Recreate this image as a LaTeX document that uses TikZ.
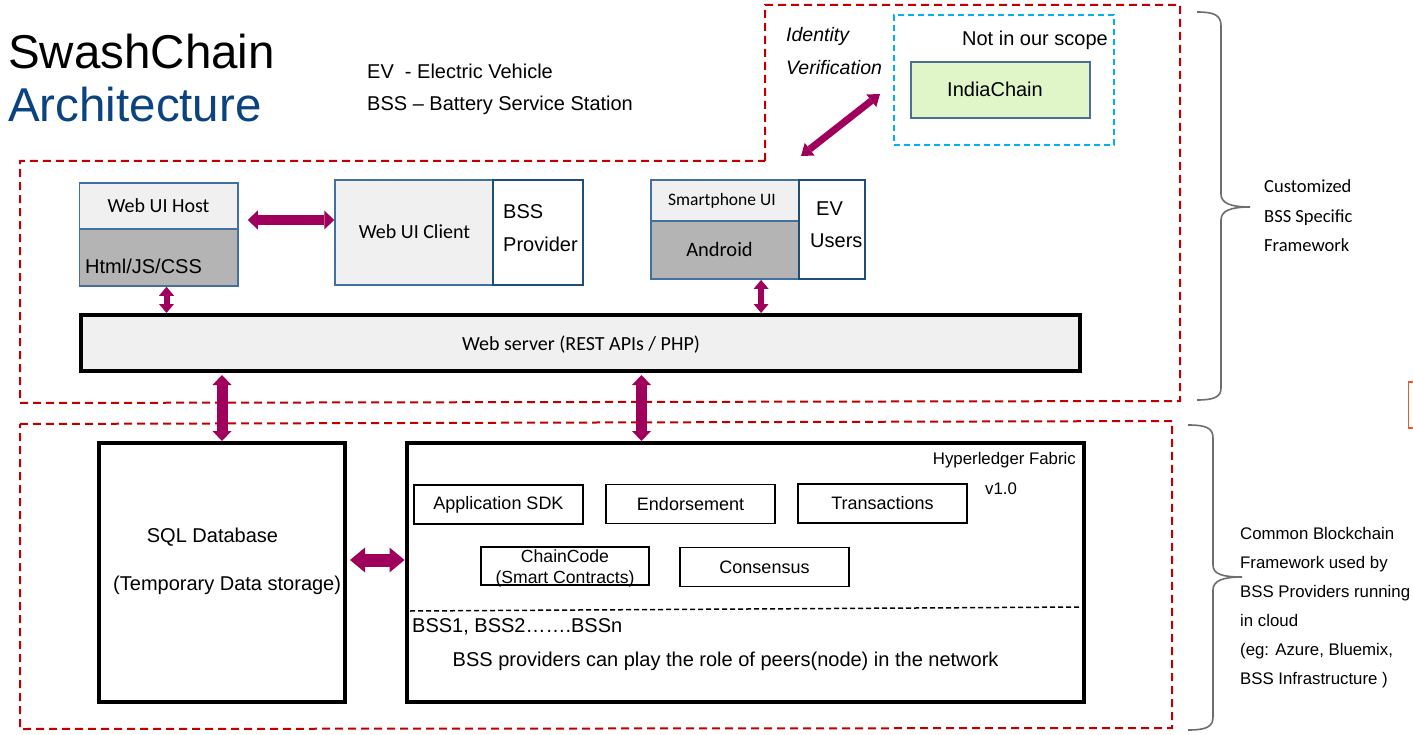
\documentclass[tikz,border=0pt]{standalone}
\usepackage{fontspec}
\setmainfont{Liberation Sans}
\newfontfamily\calfont{Carlito}
\usetikzlibrary{arrows.meta,calc}
\definecolor{reddash}{RGB}{192,0,0}
\definecolor{bluedash}{RGB}{0,176,240}
\definecolor{boxblue}{RGB}{65,113,156}
\definecolor{darkblue}{RGB}{31,78,121}
\definecolor{lightfill}{RGB}{240,240,240}
\definecolor{grayfill}{RGB}{180,180,180}
\definecolor{arrowmag}{RGB}{158,0,92}
\definecolor{titleblue}{RGB}{11,66,128}
\definecolor{greenfill}{RGB}{224,246,200}
\definecolor{indiaborder}{RGB}{74,110,150}
\definecolor{bracegray}{RGB}{110,110,110}
\definecolor{orangebox}{RGB}{230,90,50}
\newcommand\fsz[1]{\fontsize{#1}{#1}\selectfont}
\begin{document}
\begin{tikzpicture}[x=1pt,y=-1pt,
  every node/.style={inner sep=0pt},
  bluebox/.style={draw=boxblue, line width=1.5pt},
  darkbox/.style={draw=darkblue, line width=1.8pt, fill=white},
  heavybox/.style={draw=black, line width=4pt},
  plainbox/.style={draw=black, line width=1.8pt, minimum width=169pt, minimum height=39pt, font=\fsz{18}},
  reddashed/.style={draw=reddash, line width=2pt, dash pattern=on 8pt off 5pt},
  fatarrow/.style n args={3}{draw=arrowmag, line width=#1, arrows={Triangle[length=#3 0,width=#2 0,line width=0pt 0]-Triangle[length=#3 0,width=#2 0,line width=0pt 0]}},
  brace/.style={draw=bracegray, line width=1.6pt},
  txt/.style={font=\fsz{20}},
  caltxt/.style={font=\calfont\fsz{20}},
  smalltxt/.style={font=\calfont\fsz{18.5}},
  notetxt/.style={font=\fsz{16.8}, anchor=base west},
]
\useasboundingbox (0,0) rectangle (1413,735);
\fill[white] (0,0) rectangle (1413,735);

% title and legend
\node[anchor=base west, font=\fsz{47.5}] (t1) at (8,69) {SwashChain};
\node[anchor=base west, font=\fsz{47.5}, text=titleblue] (t2) at (8,122) {Architecture};
\node[txt, anchor=base west] (ev) at (367,79) {EV~ - Electric Vehicle};
\node[txt, anchor=base west] (bss) at (367,111) {BSS – Battery Service Station};

% red dashed regions
\draw[reddashed] (765,161) -- (765,5) -- (1180,5) -- (1180,401) -- (20,403) -- (20,161) -- cycle;
\draw[reddashed] (20,424) -- (1172,421) -- (1172,728) -- (20,729) -- cycle;

% identity verification
\node[draw=bluedash, line width=2pt, dash pattern=on 6pt off 4pt, minimum width=220pt, minimum height=130pt] (scope) at (1004,80) {};
\node[draw=indiaborder, line width=2pt, fill=greenfill, minimum width=179pt, minimum height=56pt] (india) at (1000.5,90) {};
\node[txt, anchor=base] (indiatxt) at (995,97) {IndiaChain};
\node[txt, anchor=base east] (scopetxt) at (1108,46) {Not in our scope};
\node[font=\fsz{19.5}\itshape, anchor=base west] (idtxt1) at (786,42) {Identity};
\node[font=\fsz{19.5}\itshape, anchor=base west] (idtxt2) at (786,75) {Verification};
\coordinate (idA) at (801,156);
\coordinate (idB) at (880,94);
\draw[fatarrow={7pt}{16pt}{11pt}] (idA) -- (idB);

% web UI host
\node[bluebox, fill=lightfill, minimum width=158.5pt, minimum height=46pt] (hosttop) at (158.75,206) {};
\node[bluebox, fill=grayfill, minimum width=158.5pt, minimum height=57pt] (hostbot) at (158.75,257.5) {};
\node[caltxt, anchor=base] (hosttxt) at (158.5,213) {Web UI Host};
\node[txt, anchor=base west] (htmltxt) at (85,273) {Html/JS/CSS};

% web UI client
\node[bluebox, fill=lightfill, minimum width=158pt, minimum height=105pt] (client) at (414,232.5) {};
\node[darkbox, minimum width=90pt, minimum height=105pt] (provider) at (538,232.5) {};
\node[caltxt, anchor=base] (clienttxt) at (414.5,239) {Web UI Client};
\node[txt, anchor=base west] (provtxt1) at (503,219) {BSS};
\node[txt, anchor=base west] (provtxt2) at (503,252) {Provider};

% smartphone
\node[bluebox, fill=lightfill, minimum width=148pt, minimum height=41pt] (phonetop) at (725,200.5) {};
\node[bluebox, fill=grayfill, minimum width=148pt, minimum height=58pt] (phonebot) at (725,250) {};
\node[darkbox, minimum width=66pt, minimum height=99pt] (evusers) at (832,229.5) {};
\node[font=\calfont\fsz{17.5}, anchor=base west] (phonetxt) at (668,205.5) {Smartphone UI};
\node[font=\calfont\fsz{20.5}, anchor=base] (androidtxt) at (719.5,257) {Android};
\node[txt, anchor=base west] (evtxt1) at (816,216) {EV};
\node[txt, anchor=base west] (evtxt2) at (810,248) {Users};

% web server
\node[heavybox, fill=lightfill, minimum width=999pt, minimum height=56pt] (web) at (580.5,343) {};
\node[caltxt, anchor=base] (webtxt) at (581,350) {Web server (REST APIs / PHP)};

% lower boxes
\node[heavybox, fill=white, minimum width=246pt, minimum height=259pt] (sql) at (222,572.5) {};
\node[txt, anchor=base] (sqltxt1) at (212.5,542) {SQL Database};
\node[txt, anchor=base west] (sqltxt2) at (113,590) {(Temporary Data storage)};

\node[heavybox, fill=white, minimum width=677.5pt, minimum height=259pt] (hl) at (745.25,572.5) {};
\node[font=\fsz{16.8}, anchor=base east] (hltxt) at (1076,464.5) {Hyperledger Fabric};
\node[font=\fsz{16.8}, anchor=base west] (vtxt) at (985,494) {v1.0};
\node[plainbox] (appsdk) at (498.5,504.5) {Application SDK};
\node[plainbox] (endorse) at (690.5,504) {Endorsement};
\node[plainbox] (trans) at (882.5,503.5) {Transactions};
\node[plainbox, minimum width=168.5pt, minimum height=38pt] (chaincode) at (565,566) {};
\node[font=\fsz{17.6}, anchor=base] (cctxt1) at (565,562) {ChainCode};
\node[font=\fsz{17.6}, anchor=base] (cctxt2) at (565,583) {(Smart Contracts)};
\node[plainbox] (consensus) at (764.5,567) {Consensus};
\coordinate (dashA) at (410,611);
\coordinate (dashB) at (1084,607);
\draw[black, line width=1.5pt, dash pattern=on 5pt off 3pt] (dashA) -- (dashB);
\node[txt, anchor=base west] (bsstxt) at (412,632) {BSS1, BSS2…….BSSn};
\node[txt, anchor=base west] (peertxt) at (452.5,666) {BSS providers can play the role of peers(node) in the network};

% connectors
\coordinate (hcA) at ($(hosttop.east)+(9,14)$);
\draw[fatarrow={10pt}{19pt}{10pt}] (hcA) -- (hcA -| client.west);
\coordinate (hw) at ($(hostbot.south)+(7.75,0)$);
\draw[fatarrow={6pt}{15pt}{9pt}] (hw) -- (hw |- web.north);
\coordinate (pw) at ($(evusers.south west)+(-37,0)$);
\draw[fatarrow={6pt}{15pt}{9pt}] (pw) -- (pw |- web.north);
\draw[fatarrow={11pt}{19pt}{10pt}] ($(web.south -| sql.north)+(0,2)$) -- (sql.north);
\coordinate (wh) at ($(hl.north west)+(237,0)$);
\draw[fatarrow={11pt}{19pt}{10pt}] ($(wh |- web.south)+(0,2)$) -- (wh);
\coordinate (sh) at ($(sql.east)+(3,-12.5)$);
\draw[fatarrow={13pt}{25pt}{15pt}] (sh) -- (sh -| hl.west);

% braces
\draw[brace] (1197,12) .. controls (1214,12) and (1221,15) .. (1221,26) -- (1221,194) .. controls (1221,203) and (1230,207) .. (1250,207) .. controls (1230,207) and (1221,211) .. (1221,220) -- (1221,388) .. controls (1221,397) and (1214,400) .. (1197,400);
\draw[brace] (1188,425) .. controls (1206,425) and (1213,428) .. (1213,438) -- (1213,565) .. controls (1213,574) and (1222,577) .. (1242,577) .. controls (1222,577) and (1213,581) .. (1213,590) -- (1213,717) .. controls (1213,727) and (1206,730) .. (1188,730);

\node[smalltxt, anchor=base west] (cust1) at (1264,193) {Customized};
\node[smalltxt, anchor=base west] (cust2) at (1264,223) {BSS Specific};
\node[smalltxt, anchor=base west] (cust3) at (1264,252) {Framework};

\node[notetxt] (n1) at (1240,539) {Common Blockchain};
\node[notetxt] (n2) at (1240,568) {Framework used by};
\node[notetxt] (n3) at (1240,597) {BSS Providers running};
\node[notetxt] (n4) at (1240,626) {in cloud};
\node[notetxt] (n5) at (1240,655) {(eg: Azure, Bluemix,};
\node[notetxt] (n6) at (1240,684) {BSS Infrastructure )};

% partial box at right edge
\draw[orangebox, line width=1.5pt] (1425,382) -- (1408.5,382) -- (1408.5,428) -- (1425,428);
\end{tikzpicture}
\end{document}
